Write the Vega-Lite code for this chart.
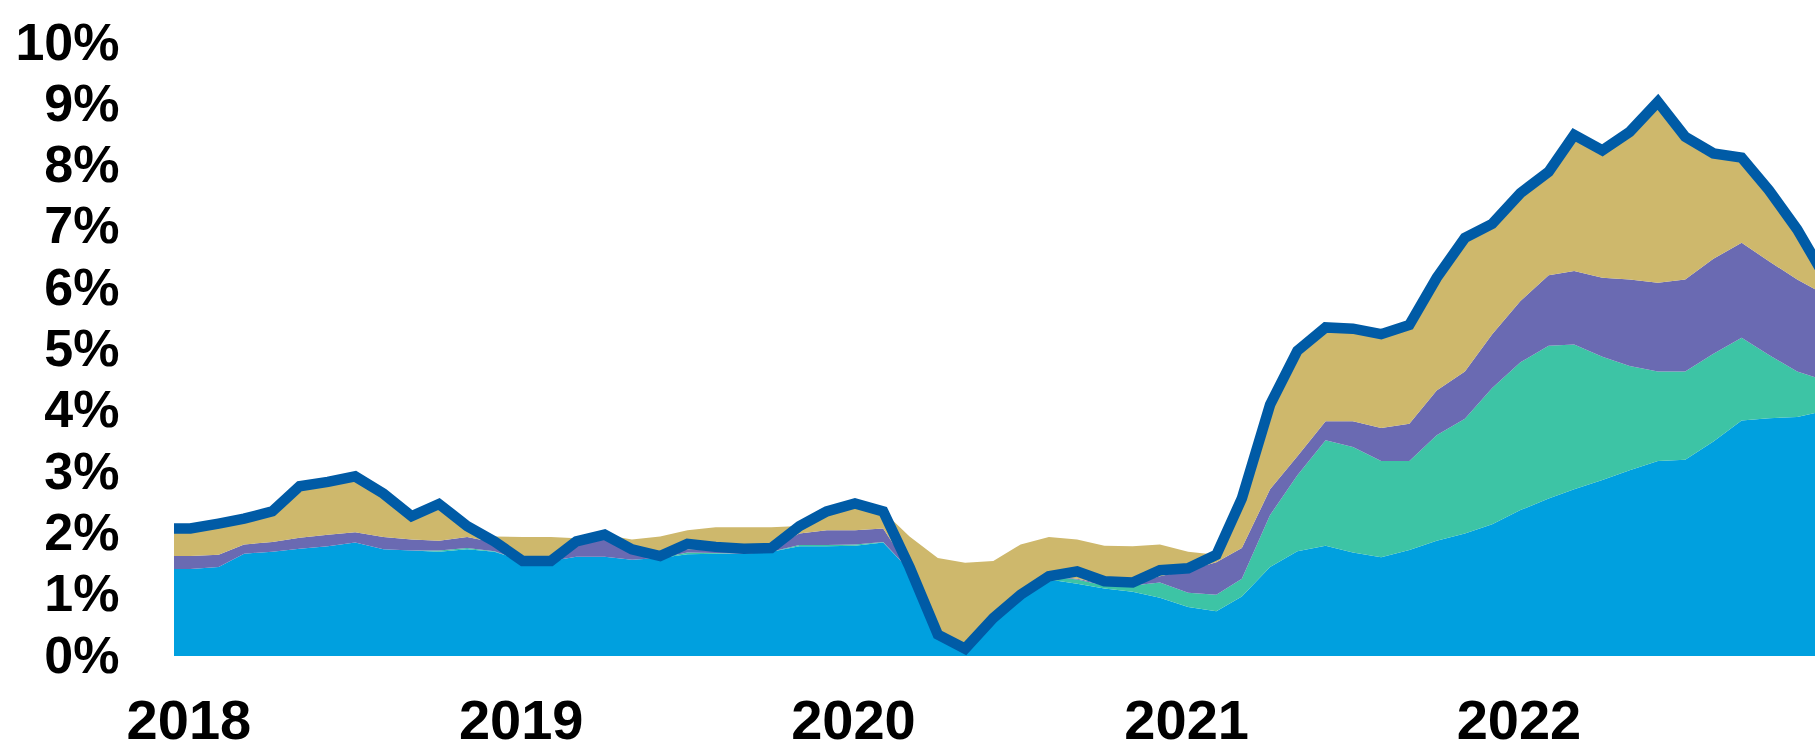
{
  "$schema": "https://vega.github.io/schema/vega-lite/v6.json",
  "width": 1641,
  "height": 613,
  "autosize": {"type": "none"},
  "padding": {"left": 174, "top": 43, "right": 0, "bottom": 86},
  "background": "white",
  "config": {
    "view": {"stroke": null},
    "font": "Liberation Sans",
    "axis": {"domain": false, "ticks": false, "tickSize": 0, "grid": false, "labelFont": "Liberation Sans", "labelFontWeight": "bold", "labelColor": "#000000", "title": null},
    "axisX": {"labelFontSize": 56, "labelPadding": 38},
    "axisY": {"labelFontSize": 52, "labelPadding": 55}
  },
  "data": {
    "values": [
      {"date": "2017-12-01", "Services": 1.42, "Goods": 0, "Food": 0.21, "Energy": 0.45, "Total": 2.08},
      {"date": "2018-01-01", "Services": 1.42, "Goods": 0, "Food": 0.21, "Energy": 0.45, "Total": 2.08},
      {"date": "2018-02-01", "Services": 1.45, "Goods": 0, "Food": 0.20, "Energy": 0.51, "Total": 2.16},
      {"date": "2018-03-01", "Services": 1.67, "Goods": 0, "Food": 0.15, "Energy": 0.42, "Total": 2.24},
      {"date": "2018-04-01", "Services": 1.70, "Goods": 0, "Food": 0.16, "Energy": 0.50, "Total": 2.36},
      {"date": "2018-05-01", "Services": 1.75, "Goods": 0, "Food": 0.18, "Energy": 0.84, "Total": 2.77},
      {"date": "2018-06-01", "Services": 1.79, "Goods": 0, "Food": 0.19, "Energy": 0.86, "Total": 2.84},
      {"date": "2018-07-01", "Services": 1.85, "Goods": 0, "Food": 0.17, "Energy": 0.91, "Total": 2.93},
      {"date": "2018-08-01", "Services": 1.74, "Goods": 0, "Food": 0.20, "Energy": 0.71, "Total": 2.65},
      {"date": "2018-09-01", "Services": 1.72, "Goods": 0, "Food": 0.18, "Energy": 0.38, "Total": 2.28},
      {"date": "2018-10-01", "Services": 1.70, "Goods": 0.02, "Food": 0.16, "Energy": 0.60, "Total": 2.48},
      {"date": "2018-11-01", "Services": 1.74, "Goods": 0.02, "Food": 0.18, "Energy": 0.18, "Total": 2.12},
      {"date": "2018-12-01", "Services": 1.70, "Goods": 0.01, "Food": 0.14, "Energy": 0.10, "Total": 1.87},
      {"date": "2019-01-01", "Services": 1.55, "Goods": 0, "Food": 0.05, "Energy": 0.34, "Total": 1.55},
      {"date": "2019-02-01", "Services": 1.55, "Goods": 0, "Food": 0.05, "Energy": 0.34, "Total": 1.55},
      {"date": "2019-03-01", "Services": 1.62, "Goods": 0, "Food": 0.18, "Energy": 0.12, "Total": 1.87},
      {"date": "2019-04-01", "Services": 1.62, "Goods": 0, "Food": 0.30, "Energy": 0.06, "Total": 1.98},
      {"date": "2019-05-01", "Services": 1.57, "Goods": 0, "Food": 0.18, "Energy": 0.15, "Total": 1.74},
      {"date": "2019-06-01", "Services": 1.60, "Goods": 0, "Food": 0.08, "Energy": 0.27, "Total": 1.63},
      {"date": "2019-07-01", "Services": 1.66, "Goods": 0.03, "Food": 0.05, "Energy": 0.31, "Total": 1.83},
      {"date": "2019-08-01", "Services": 1.67, "Goods": 0.01, "Food": 0.06, "Energy": 0.36, "Total": 1.78},
      {"date": "2019-09-01", "Services": 1.67, "Goods": 0, "Food": 0.05, "Energy": 0.38, "Total": 1.75},
      {"date": "2019-10-01", "Services": 1.70, "Goods": 0, "Food": 0.05, "Energy": 0.35, "Total": 1.76},
      {"date": "2019-11-01", "Services": 1.79, "Goods": 0.02, "Food": 0.19, "Energy": 0.12, "Total": 2.12},
      {"date": "2019-12-01", "Services": 1.79, "Goods": 0.02, "Food": 0.24, "Energy": 0.31, "Total": 2.36},
      {"date": "2020-01-01", "Services": 1.80, "Goods": 0.02, "Food": 0.23, "Energy": 0.44, "Total": 2.49},
      {"date": "2020-02-01", "Services": 1.85, "Goods": 0.01, "Food": 0.22, "Energy": 0.28, "Total": 2.36},
      {"date": "2020-03-01", "Services": 1.40, "Goods": 0, "Food": 0.02, "Energy": 0.53, "Total": 1.45},
      {"date": "2020-04-01", "Services": 0.30, "Goods": 0, "Food": 0.01, "Energy": 1.29, "Total": 0.35},
      {"date": "2020-05-01", "Services": 0.05, "Goods": 0.01, "Food": 0.01, "Energy": 1.45, "Total": 0.12},
      {"date": "2020-06-01", "Services": 0.60, "Goods": 0, "Food": 0.01, "Energy": 0.94, "Total": 0.62},
      {"date": "2020-07-01", "Services": 0.95, "Goods": 0.01, "Food": 0.01, "Energy": 0.85, "Total": 1.00},
      {"date": "2020-08-01", "Services": 1.25, "Goods": 0.05, "Food": 0.01, "Energy": 0.63, "Total": 1.30},
      {"date": "2020-09-01", "Services": 1.18, "Goods": 0.07, "Food": 0.01, "Energy": 0.64, "Total": 1.38},
      {"date": "2020-10-01", "Services": 1.10, "Goods": 0.05, "Food": 0.02, "Energy": 0.63, "Total": 1.22},
      {"date": "2020-11-01", "Services": 1.05, "Goods": 0.10, "Food": 0.03, "Energy": 0.61, "Total": 1.20},
      {"date": "2020-12-01", "Services": 0.95, "Goods": 0.25, "Food": 0.10, "Energy": 0.52, "Total": 1.40},
      {"date": "2021-01-01", "Services": 0.80, "Goods": 0.23, "Food": 0.37, "Energy": 0.30, "Total": 1.43},
      {"date": "2021-02-01", "Services": 0.73, "Goods": 0.27, "Food": 0.53, "Energy": 0.12, "Total": 1.65},
      {"date": "2021-03-01", "Services": 0.97, "Goods": 0.29, "Food": 0.50, "Energy": 0.81, "Total": 2.57},
      {"date": "2021-04-01", "Services": 1.45, "Goods": 0.85, "Food": 0.42, "Energy": 1.38, "Total": 4.10},
      {"date": "2021-05-01", "Services": 1.71, "Goods": 1.24, "Food": 0.31, "Energy": 1.72, "Total": 4.98},
      {"date": "2021-06-01", "Services": 1.80, "Goods": 1.72, "Food": 0.31, "Energy": 1.53, "Total": 5.36},
      {"date": "2021-07-01", "Services": 1.69, "Goods": 1.72, "Food": 0.42, "Energy": 1.51, "Total": 5.34},
      {"date": "2021-08-01", "Services": 1.61, "Goods": 1.57, "Food": 0.54, "Energy": 1.53, "Total": 5.25},
      {"date": "2021-09-01", "Services": 1.73, "Goods": 1.45, "Food": 0.61, "Energy": 1.61, "Total": 5.40},
      {"date": "2021-10-01", "Services": 1.88, "Goods": 1.72, "Food": 0.73, "Energy": 1.84, "Total": 6.17},
      {"date": "2021-11-01", "Services": 2.00, "Goods": 1.87, "Food": 0.77, "Energy": 2.18, "Total": 6.82},
      {"date": "2021-12-01", "Services": 2.15, "Goods": 2.22, "Food": 0.88, "Energy": 1.80, "Total": 7.05},
      {"date": "2022-01-01", "Services": 2.38, "Goods": 2.41, "Food": 1.00, "Energy": 1.76, "Total": 7.55},
      {"date": "2022-02-01", "Services": 2.57, "Goods": 2.49, "Food": 1.15, "Energy": 1.69, "Total": 7.90},
      {"date": "2022-03-01", "Services": 2.72, "Goods": 2.36, "Food": 1.20, "Energy": 2.22, "Total": 8.50},
      {"date": "2022-04-01", "Services": 2.87, "Goods": 2.01, "Food": 1.29, "Energy": 2.08, "Total": 8.25},
      {"date": "2022-05-01", "Services": 3.03, "Goods": 1.70, "Food": 1.41, "Energy": 2.41, "Total": 8.55},
      {"date": "2022-06-01", "Services": 3.18, "Goods": 1.46, "Food": 1.45, "Energy": 2.95, "Total": 9.04},
      {"date": "2022-07-01", "Services": 3.20, "Goods": 1.44, "Food": 1.50, "Energy": 2.33, "Total": 8.47},
      {"date": "2022-08-01", "Services": 3.50, "Goods": 1.43, "Food": 1.55, "Energy": 1.72, "Total": 8.20},
      {"date": "2022-09-01", "Services": 3.84, "Goods": 1.35, "Food": 1.55, "Energy": 1.39, "Total": 8.13},
      {"date": "2022-10-01", "Services": 3.88, "Goods": 1.03, "Food": 1.53, "Energy": 1.16, "Total": 7.60},
      {"date": "2022-11-01", "Services": 3.90, "Goods": 0.74, "Food": 1.50, "Energy": 0.82, "Total": 6.96},
      {"date": "2022-12-01", "Services": 4.00, "Goods": 0.50, "Food": 1.40, "Energy": 0.30, "Total": 6.20}
    ]
  },
  "encoding": {
    "x": {
      "field": "date",
      "type": "temporal",
      "scale": {
        "type": "utc",
        "domain": [
          {"year": 2017, "month": 12, "date": 14, "utc": true},
          {"year": 2022, "month": 11, "date": 20, "hours": 14, "utc": true}
        ]
      },
      "axis": {
        "values": [
          {"year": 2018, "month": 1, "date": 1, "utc": true},
          {"year": 2019, "month": 1, "date": 1, "utc": true},
          {"year": 2020, "month": 1, "date": 1, "utc": true},
          {"year": 2021, "month": 1, "date": 1, "utc": true},
          {"year": 2022, "month": 1, "date": 1, "utc": true}
        ],
        "labelExpr": "utcFormat(datum.value, '%Y')",
        "labelOffset": -2,
        "labelFlush": false,
        "labelOverlap": false,
        "labelBound": false,
        "labelAlign": "center",
        "labelBaseline": "top"
      }
    }
  },
  "layer": [
    {
      "transform": [{"fold": ["Services", "Goods", "Food", "Energy"], "as": ["component", "pp"]}],
      "mark": {"type": "area", "clip": true, "interpolate": "linear"},
      "encoding": {
        "y": {
          "field": "pp",
          "type": "quantitative",
          "stack": "zero",
          "scale": {"domain": [0, 10], "nice": false, "zero": true},
          "axis": {
            "values": [0, 1, 2, 3, 4, 5, 6, 7, 8, 9, 10],
            "labelExpr": "datum.value + '%'",
            "labelAlign": "right",
            "labelBaseline": "middle",
            "labelOverlap": false,
            "labelBound": false,
            "labelFlush": false
          }
        },
        "color": {
          "field": "component",
          "type": "nominal",
          "scale": {
            "domain": ["Services", "Goods", "Food", "Energy"],
            "range": ["#00A0DF", "#3DC4A5", "#6A6AB2", "#CEB86C"]
          },
          "legend": null
        },
        "order": {"field": "component", "sort": "descending"}
      }
    },
    {
      "mark": {"type": "line", "clip": true, "color": "#005BA6", "strokeWidth": 10.5, "interpolate": "linear"},
      "encoding": {
        "y": {
          "field": "Total",
          "type": "quantitative",
          "axis": {
            "values": [0, 1, 2, 3, 4, 5, 6, 7, 8, 9, 10],
            "labelExpr": "datum.value + '%'",
            "labelAlign": "right",
            "labelBaseline": "middle",
            "labelOverlap": false,
            "labelBound": false,
            "labelFlush": false
          }
        }
      }
    }
  ]
}
